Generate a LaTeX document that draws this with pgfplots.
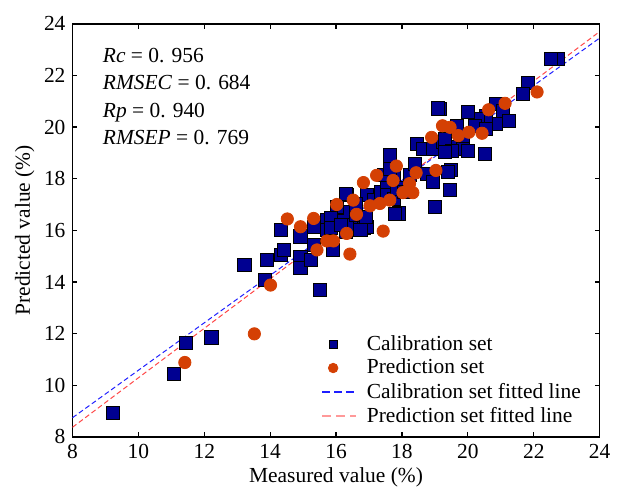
\documentclass[border=0pt]{standalone}
\usepackage{fontspec}
\setmainfont{Liberation Serif}
\usepackage{pgfplots}
\pgfplotsset{compat=1.18}
\definecolor{calblue}{RGB}{0,0,145}
\definecolor{predorange}{RGB}{212,64,4}
\definecolor{fitblue}{RGB}{30,30,255}
\definecolor{fitred}{RGB}{255,70,70}

\begin{document}
\begin{tikzpicture}
\begin{axis}[
    name=ax,
    scale only axis,
    width=265.5pt, height=208pt,
    xmin=8, xmax=24, ymin=8, ymax=24,
    xtick={8,10,...,24}, ytick={8,10,...,24},
    tick align=inside,
    major tick length=2.5pt,
    axis line style={line width=0.7pt},
    every tick/.style={black, line width=0.6pt},
    font=\fontsize{10.8}{12}\selectfont,
    tick label style={font=\fontsize{10.8}{12}\selectfont},
    /pgf/number format/assume math mode=true,
    xlabel={Measured value (\%)},
    ylabel={Predicted value (\%)},
    xlabel style={yshift=2pt},
    ylabel style={yshift=-2pt},
    clip=false,
    legend cell align=left,
    legend style={
        draw=none, fill=none, inner sep=0pt,
        at={(rel axis cs:0.472,0.018)}, anchor=south west,
        font=\fontsize{10.8}{12}\selectfont,
        row sep=-1pt,
        /tikz/every odd column/.append style={column sep=3pt},
    },
]
% calibration set
\addplot[only marks, mark=square*, mark size=3.3pt,
    mark options={fill=calblue, draw=black, line width=0.5pt},
    legend image code/.code={\draw[fill=calblue, draw=black, line width=0.4pt]
        (0.12cm,-2pt) rectangle (0.12cm+4pt,2pt);}]
coordinates {
(9.24,8.93) (11.09,10.43) (11.44,11.63) (12.22,11.85) (13.22,14.65)
(13.83,14.06) (13.91,14.85) (14.32,15.03) (14.42,15.24) (14.33,16.01)
(14.92,14.95) (14.92,14.54) (14.92,15.76) (15.23,14.86) (15.34,15.43)
(15.34,16.14) (15.51,13.68) (15.74,16.40) (15.74,16.01) (15.92,15.24)
(16.04,16.20) (16.29,15.95) (16.44,16.46) (16.24,16.72) (16.04,16.85)
(16.34,17.36) (16.04,16.91) (15.84,16.46) (15.84,16.08) (16.14,16.20)
(16.54,16.20) (16.74,16.33) (16.95,17.36) (17.15,17.17) (17.35,17.49)
(17.55,17.36) (17.75,17.23) (17.55,17.87) (17.75,18.07) (17.45,18.13)
(17.65,18.38) (17.65,18.90) (17.85,17.62) (18.05,17.49) (18.25,18.13)
(18.40,18.58) (17.90,16.65) (16.85,16.08) (16.95,16.14) (16.74,16.01)
(18.75,18.19) (18.95,17.87) (19.50,18.32) (19.45,17.55) (19.00,16.91)
(17.80,16.62) (18.45,19.35) (18.65,19.15) (18.95,19.15) (19.26,19.41)
(19.56,19.22) (19.86,19.15) (19.86,19.67) (22.72,22.62) (22.52,22.62)
(21.82,21.72) (21.67,21.27) (20.86,20.88) (21.06,20.63) (20.86,20.12)
(21.26,20.24) (20.56,20.43) (20.31,20.31) (20.01,20.57) (20.21,20.05)
(20.56,19.92) (19.15,20.69) (19.66,20.05) (19.30,19.54) (19.51,19.09)
(20.01,19.09) (20.51,18.96) (19.30,19.03) (19.10,20.72) (19.40,18.26)
(16.29,17.42) (16.60,16.60) (16.90,16.50) (16.60,17.00)
};
\addlegendentry{Calibration set}
% prediction set
\addplot[only marks, mark=*, mark size=3.1pt,
    mark options={fill=predorange, draw=predorange},
    legend image code/.code={\fill[predorange] (0.12cm+2pt,0pt) circle (2.4pt);}]
coordinates {
(11.41,10.88) (13.52,11.99) (14.01,13.88) (14.52,16.44) (14.92,16.14)
(15.32,16.46) (15.42,15.24) (15.72,15.59) (15.92,15.59) (16.42,15.08)
(16.32,15.88) (17.43,15.97) (16.02,17.00) (16.52,17.17) (16.62,16.62)
(16.83,17.85) (17.23,18.13) (17.03,16.95) (17.33,17.04) (17.63,17.17)
(17.73,17.93) (17.83,18.49) (18.03,17.46) (18.23,17.81) (18.33,17.46)
(18.43,18.23) (19.03,18.32) (18.90,19.60) (19.23,20.05) (19.46,19.99)
(19.71,19.67) (20.03,19.80) (20.43,19.76) (20.63,20.67) (21.13,20.92)
(22.10,21.36)
};
\addlegendentry{Prediction set}
% fitted lines
\addplot[fitblue, line width=0.5pt, dash pattern=on 2.5pt off 1.5pt,
    legend image code/.code={\draw[fitblue, line width=0.6pt,
        dash pattern=on 4pt off 2pt] (0cm,0cm) -- (0.6cm,0cm);}]
coordinates {(8,8.74) (24,23.45)};
\addlegendentry{Calibration set fitted line}
\addplot[fitred, line width=0.5pt, dash pattern=on 2.5pt off 1.5pt,
    legend image code/.code={\draw[fitred!55, line width=0.7pt,
        dash pattern=on 4.5pt off 2.5pt] (0cm,0cm) -- (0.6cm,0cm);}]
coordinates {(8,8.37) (24,23.70)};
\addlegendentry{Prediction set fitted line}

\node[anchor=north west, align=left, inner sep=0pt,
      font=\fontsize{10.8}{13.8}\selectfont]
    at (rel axis cs:0.057,0.942)
    {\textit{Rc} = 0. 956\\ \textit{RMSEC} = 0. 684\\ \textit{Rp} = 0. 940\\ \textit{RMSEP} = 0. 769};
\end{axis}
\path (ax.south west) ++(-36.5pt,-28.5pt) coordinate (bl);
\path (ax.north east) ++(6.5pt,12pt) coordinate (tr);
\path (bl) rectangle (tr);
\end{tikzpicture}
\end{document}
